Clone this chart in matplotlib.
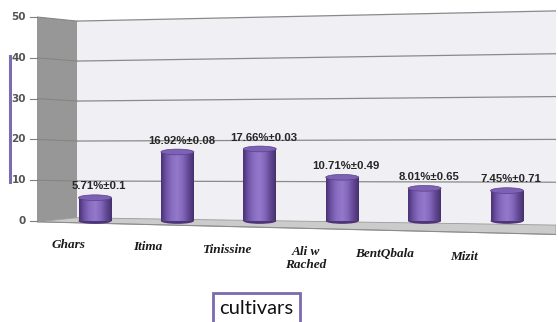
import numpy as np
import matplotlib
matplotlib.use("Agg")
import matplotlib.pyplot as plt
from matplotlib.patches import Polygon, Rectangle, Ellipse
from matplotlib.colors import LinearSegmentedColormap
from matplotlib.lines import Line2D

cultivars = ["Ghars", "Itima", "Tinissine", "Ali w\nRached", "BentQbala", "Mizit"]
values = [5.71, 16.92, 17.66, 10.71, 8.01, 7.45]
errors = ["0.1", "0.08", "0.03", "0.49", "0.65", "0.71"]
yticks = [0, 10, 20, 30, 40, 50]

W, H = 558, 322
fig = plt.figure(figsize=(W / 100, H / 100), dpi=100)
fig.patch.set_facecolor("white")

# axes geometry in pixels
ax_l, ax_r = 37, 556
ax_top, ax_bot = 0, 240
ppu_y = 4.08          # pixels per value unit
y0_px = 221           # pixel row of value 0
ppu_x = 82.4
x0_px = 95            # pixel column of the first cylinder

ax = fig.add_axes([ax_l / W, 1 - ax_bot / H, (ax_r - ax_l) / W, (ax_bot - ax_top) / H])
ax.set_xlim((ax_l - x0_px) / ppu_x, (ax_r - x0_px) / ppu_x)
ax.set_ylim(-(ax_bot - y0_px) / ppu_y, (y0_px - ax_top) / ppu_y)
ax.axis("off")

xL, xR = ax.get_xlim()
xB = (77 - x0_px) / ppu_x     # back corner of the side wall


def back_left(v):
    return v - 0.02 * v + 0.8 * (v == 0)


def right_end(v):
    return v + (v - 20) * 0.05


# back wall
ax.add_patch(Polygon([(xB, 0.8), (xB, back_left(50)), (xR, right_end(50)), (xR, right_end(0))],
                     closed=True, facecolor="#f0eff4", edgecolor="none", zorder=0))
# side wall
ax.add_patch(Polygon([(xL, -0.2), (xL, 50.0), (xB, back_left(50)), (xB, 0.8)],
                     closed=True, facecolor="#979797", edgecolor="none", zorder=1))
# gridlines
for v in yticks[1:]:
    ax.plot([xL, xB], [v, back_left(v)], color="#858585", lw=0.8, zorder=2)
    ax.plot([xB, xR], [back_left(v), right_end(v)], color="#8a8a8a",
            lw=0.9, zorder=2, solid_capstyle="butt")
# floor
ax.add_patch(Polygon([(xL, -0.2), (xB, 0.8), (xR, right_end(0)), (xR, -3.3)],
                     closed=True, facecolor="#cbcbcb", edgecolor="#9a9a9a", lw=0.6, zorder=2))
ax.plot([xL, xR], [-0.2, -3.3], color="#8c8c8c", lw=0.8, zorder=2)

# cylinders
cmap = LinearSegmentedColormap.from_list(
    "cyl", ["#4a3172", "#7055a8", "#8a6ec2", "#9479cb", "#8366ba", "#624894", "#45306b"])
grad = np.linspace(0, 1, 256).reshape(1, -1)
bw = 0.40
eh = 1.4
for i, v in enumerate(values):
    rect = Rectangle((i - bw / 2, 0), bw, v, transform=ax.transData)
    im = ax.imshow(grad, cmap=cmap, aspect="auto", extent=(i - bw / 2, i + bw / 2, 0, v),
                   zorder=4, interpolation="bilinear")
    im.set_clip_path(rect)
    ax.add_patch(Ellipse((i, 0), bw, eh, facecolor="#4d3578", edgecolor="none", zorder=3.9))
    ax.add_patch(Ellipse((i, v), bw, eh, facecolor="#7d61b4", edgecolor="#5a4188",
                         lw=0.5, zorder=5))
    ax.text(i + 0.05, v + 2.8, f"{v:.2f}%\u00b1{errors[i]}", ha="center", va="center",
            fontsize=8.2, fontweight="bold", family="Liberation Sans", color="#262626",
            zorder=6)

# category labels, shifted along the perspective of the floor
for i, name in enumerate(cultivars):
    ypx = 245 + 2.3 * i
    if "\n" in name:
        ypx += 7
    yy = (y0_px - ypx) / ppu_y
    ax.text(0.96 * i - 0.32, yy, name, ha="center", va="center",
            fontsize=9.5, fontweight="bold", fontstyle="italic", family="Liberation Serif",
            color="#1a1a1a", linespacing=1.1, clip_on=False)

# y axis ticks and labels
for v in yticks:
    ax.plot([xL - 7 / ppu_x, xL], [v, v], color="#7f7f7f", lw=0.8, clip_on=False, zorder=3)
    ax.text(xL - 11 / ppu_x, v, str(v), ha="right", va="center", fontsize=7.5,
            fontweight="bold", color="#555555", clip_on=False)

# fragment of the vertical axis title frame
fig.add_artist(Line2D([9.5 / W, 9.5 / W], [1 - 56 / H, 1 - 182 / H], color="#7d6db0", lw=2.2))

# x axis title in a frame
fig.add_artist(Rectangle((213 / W, 1 - 324 / H), 87 / W, 31 / H, transform=fig.transFigure,
                         facecolor="white", edgecolor="#7c6aae", lw=2.0))
fig.text(256.5 / W, 1 - 309 / H, "cultivars", ha="center", va="center", fontsize=14.5,
         family="Lato", color="#111111")

fig.savefig("out.png", dpi=100)
